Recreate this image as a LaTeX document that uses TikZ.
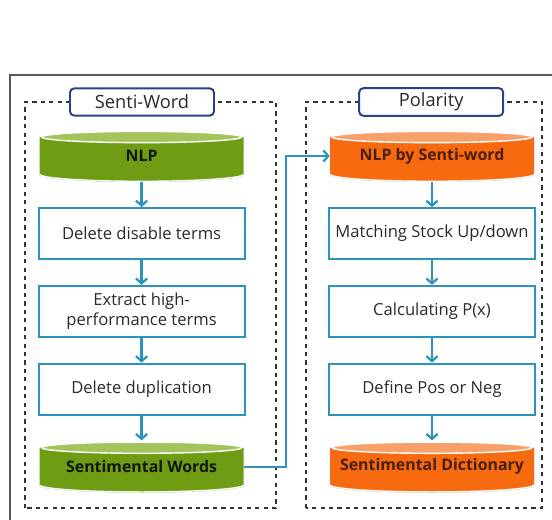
\documentclass[tikz,border=0pt]{standalone}
\usepackage{fontspec}
\setmainfont{Open Sans}
\usetikzlibrary{positioning,arrows.meta}

\definecolor{flowblue}{HTML}{2C93BF}
\definecolor{titleblue}{HTML}{2B3F8C}
\definecolor{leaf}{HTML}{6E9D14}
\definecolor{leaftop}{HTML}{A3C45A}
\definecolor{flame}{HTML}{F86A10}
\definecolor{flametop}{HTML}{F9A06A}
\definecolor{txt}{HTML}{2A2A2A}

\tikzset{
  stepbox/.style={draw=flowblue, line width=1.4pt, fill=white, minimum width=5.15cm,
    minimum height=1.275cm, align=center, text=txt, font=\fontsize{11.8}{14}\selectfont},
  title/.style={draw=titleblue, line width=1.4pt, rounded corners=3pt, fill=white,
    minimum width=3.6cm, minimum height=0.68cm, text=txt, font=\fontsize{13}{15}\selectfont},
  group/.style={dashed, line width=0.8pt, draw=black!80},
  flow/.style={draw=flowblue, line width=1.6pt, -{Straight Barb[length=3.5pt,width=8pt]}},
  % flat drum: top ellipse over a filled body, drawn inside the node
  disk/.style={minimum width=5.1cm, minimum height=1.3cm, inner sep=0pt,
    font=\bfseries\fontsize{11.3}{13}\selectfont,
    path picture={
      \fill[#1] ([yshift=-5pt]path picture bounding box.north west)
        -- ([yshift=5pt]path picture bounding box.south west)
        arc[start angle=180, end angle=360, x radius=2.55cm, y radius=5pt]
        -- ([yshift=-5pt]path picture bounding box.north east) -- cycle;
      \draw[white, line width=1pt] ([yshift=5.5pt]path picture bounding box.south west)
        arc[start angle=180, end angle=360, x radius=2.55cm, y radius=5pt];
      \fill[#1top, draw=white, line width=1pt] ([yshift=-5pt]path picture bounding box.north)
        ellipse[x radius=2.5cm, y radius=4pt];
    }},
}

\begin{document}
\begin{tikzpicture}

\useasboundingbox (0,0) rectangle (13.8,13);

% outer frame, running off the page
\draw[black!65, line width=1pt] (14,11.125) -- (0.25,11.125) -- (0.25,-0.5);

% the two groups
\draw[group] (0.625,0.3) rectangle (6.9,10.45);
\draw[group] (7.65,0.3) rectangle (13.55,10.45);

\node[title] (sw) at (3.55,10.45) {Senti-Word};
\node[title] (pol) at (10.78,10.45) {Polarity};

%%%%% Senti-Word column
\begin{scope}[node distance=0.62cm]
\node[disk=leaf, text=black!85!leaf] (nlp) at (3.54,9.1) {NLP};
\node[stepbox, below=of nlp] (del) {Delete disable terms};
\node[stepbox, below=of del] (ext) {Extract high-\\performance terms};
\node[stepbox, below=of ext] (dup) {Delete duplication};
\node[disk=leaf, text=black!85!leaf, below=of dup] (words) {Sentimental Words};

%%%%% Polarity column
\node[disk=flame, text=black!70!flame] (senti) at (10.8,9.1) {NLP by Senti-word};
\node[stepbox, below=of senti] (match) {Matching Stock Up/down};
\node[stepbox, below=of match] (calc) {Calculating P(x)};
\node[stepbox, below=of calc] (def) {Define Pos or Neg};
\node[disk=flame, text=black!70!flame, below=of def] (dict) {Sentimental Dictionary};
\end{scope}

\draw[flow] (nlp) -- (del);
\draw[flow] (del) -- (ext);
\draw[flow] (ext) -- (dup);
\draw[flow] (dup) -- (words);

\draw[flow] (senti) -- (match);
\draw[flow] (match) -- (calc);
\draw[flow] (calc) -- (def);
\draw[flow] (def) -- (dict);

% hand-over between the groups
\draw[flow] (words.east) -- ++(1.06,0) |- (senti.west);

\end{tikzpicture}
\end{document}
